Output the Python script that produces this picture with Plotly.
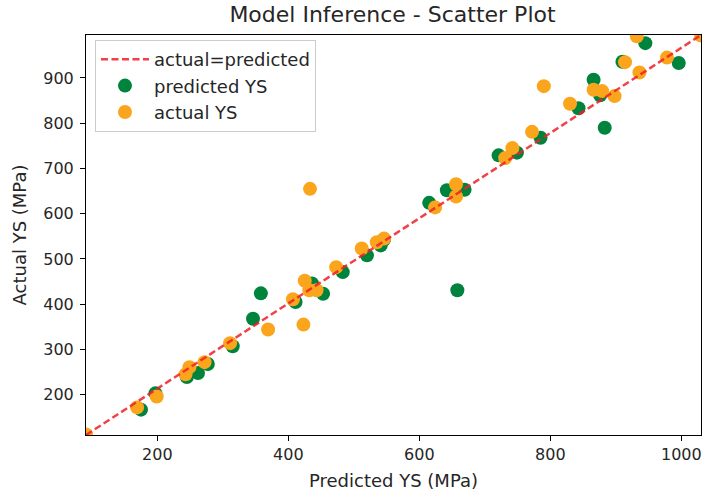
import plotly.graph_objects as go

# Predicted YS series (green)
pred_x = [175, 197, 245, 262, 277, 315, 346, 358, 411, 436, 453, 483, 520, 541, 546,
          615, 642, 669, 658, 721, 749, 785, 843, 866, 876, 883, 910, 945, 996]
pred_y = [167, 203, 239, 248, 268, 307, 368, 424, 405, 446, 423, 471, 508, 530, 543,
          624, 652, 653, 431, 729, 735, 768, 833, 896, 862, 790, 936, 977, 933]

# Actual YS series (orange)
act_x = [91, 169, 199, 243, 249, 272, 311, 369, 407, 423, 425, 432, 443, 433, 473, 512,
         535, 546, 624, 656, 656, 731, 742, 772, 790, 830, 866, 879, 898, 914, 932, 936,
         978, 1030]
act_y = [112, 172, 196, 245, 261, 272, 314, 344, 411, 355, 452, 431, 431, 655, 482, 523,
         537, 545, 614, 665, 638, 723, 745, 781, 882, 843, 874, 871, 860, 935, 992, 912,
         945, 994]

# Reference line endpoints and axis limits
line_x = [91, 1030]
line_y = [111, 995]
x_ticks = [200, 400, 600, 800, 1000]
y_ticks = [200, 300, 400, 500, 600, 700, 800, 900]

FONT = "DejaVu Sans"
GREEN = "#00843d"
ORANGE = "#fba51c"
TXT = "#262626"

fig = go.Figure()
fig.add_trace(go.Scatter(x=pred_x, y=pred_y, mode="markers", name="predicted YS",
                         marker=dict(color=GREEN, size=14, line=dict(width=0)),
                         legendrank=2, legendgroup="b"))
fig.add_trace(go.Scatter(x=act_x, y=act_y, mode="markers", name="actual YS",
                         marker=dict(color=ORANGE, size=14, line=dict(width=0)),
                         legendrank=3, legendgroup="c"))
fig.add_trace(go.Scatter(x=line_x, y=line_y, mode="lines", name="actual=predicted",
                         line=dict(color="rgba(240,30,40,0.85)", width=2.5, dash="7px,3.5px"),
                         legendrank=1, legendgroup="a"))

axis_common = dict(
    showgrid=False, zeroline=False, showline=True, linecolor="black", linewidth=1,
    mirror=True, ticks="outside", ticklen=5, tickwidth=1, tickcolor="black",
    tickfont=dict(family=FONT, size=16, color=TXT), automargin=False,
    ticklabeloverflow="allow",
)

fig.update_layout(
    width=702, height=494,
    margin=dict(l=86, r=1, t=35, b=59, autoexpand=False),
    paper_bgcolor="white", plot_bgcolor="white",
    title=dict(text="Model Inference - Scatter Plot", x=0.5591, xanchor="center",
               y=0.9706, yanchor="middle",
               font=dict(family=FONT, size=22, color=TXT)),
    xaxis=dict(range=[line_x[0], line_x[1]], tickvals=x_ticks,
               title=dict(text="Predicted YS (MPa)", standoff=11,
                          font=dict(family=FONT, size=18, color=TXT)),
               **axis_common),
    yaxis=dict(range=[line_y[0], line_y[1]], tickvals=y_ticks, ticklabelstandoff=3,
               title=dict(text="Actual YS (MPa)", standoff=11,
                          font=dict(family=FONT, size=18, color=TXT)),
               **axis_common),
    legend=dict(x=0.0146, y=0.9875, xanchor="left", yanchor="top",
                bgcolor="rgba(255,255,255,0.8)", bordercolor="#cccccc", borderwidth=1,
                font=dict(family=FONT, size=18, color=TXT),
                traceorder="grouped", tracegroupgap=0, itemwidth=48),
    showlegend=True,
)

# Remove the default 8px page margin so the 702x494 figure fills the window exactly,
# and hide the hover mode bar.
fig.write_html("out.html", config={"displayModeBar": False},
               post_script="document.body.style.margin='0px';")
